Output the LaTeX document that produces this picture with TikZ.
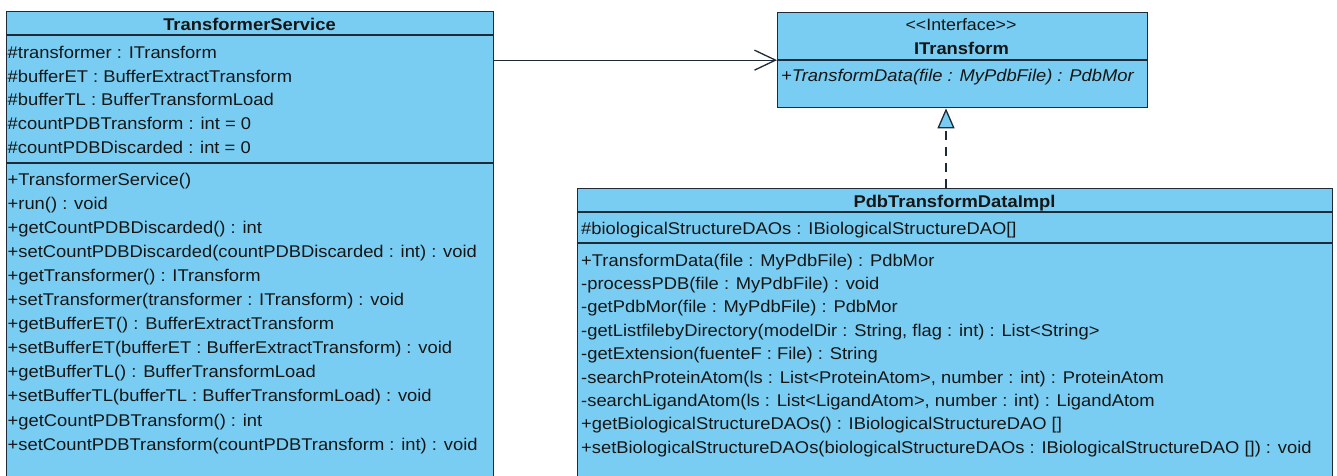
\documentclass[tikz,border=0pt]{standalone}
\usepackage{fontspec}
\setmainfont{Liberation Sans}[FakeStretch=1.08]
\usetikzlibrary{arrows.meta}
\definecolor{umlfill}{HTML}{79CDF2}
\definecolor{umlline}{HTML}{1E2A36}
\definecolor{umltext}{HTML}{161616}
\begin{document}
\begin{tikzpicture}[x=1pt,y=-1pt,
  classbox/.style={draw=umlline, line width=1.3pt, fill=umlfill, anchor=north west, inner sep=0pt},
  sep/.style={draw=umlline, line width=1.3pt},
  member/.style={anchor=base west, inner sep=0pt, text=umltext, font=\fontsize{17}{20}\selectfont},
  title/.style={anchor=base, inner sep=0pt, text=umltext, font=\fontsize{17}{20}\selectfont\bfseries},
  stereo/.style={anchor=base, inner sep=0pt, text=umltext, font=\fontsize{16.5}{20}\selectfont},
  assoc/.style={draw=umlline, line width=1.3pt, -{Straight Barb[length=21pt,width=20pt]}},
  realize/.style={draw=umlline, line width=1.3pt, dash pattern=on 9pt off 7pt,
    -{Triangle[length=20pt,width=17pt,fill=umlfill]}}
]
\useasboundingbox (0,0) rectangle (1337,475);
\clip (0,0) rectangle (1337,475);

% ---- TransformerService ----
\node[classbox, minimum width=487pt, minimum height=480pt] (ts) at (6,11) {};
\draw[sep] ([yshift=-24pt]ts.north west) -- ([yshift=-24pt]ts.north east);
\draw[sep] ([yshift=-152pt]ts.north west) -- ([yshift=-152pt]ts.north east);
\node[title] (tsname) at (249.5,30) {TransformerService};
\node[member] (tsa1) at (7.5,58.3) {\#transformer : ITransform};
\node[member] (tsa2) at (7.5,82) {\#bufferET : BufferExtractTransform};
\node[member] (tsa3) at (7.5,105.7) {\#bufferTL : BufferTransformLoad};
\node[member] (tsa4) at (7.5,129.4) {\#countPDBTransform : int = 0};
\node[member] (tsa5) at (7.5,153) {\#countPDBDiscarded : int = 0};
\node[member] (tsm1) at (7.5,185) {+TransformerService()};
\node[member] (tsm2) at (7.5,209.1) {+run() : void};
\node[member] (tsm3) at (7.5,233.2) {+getCountPDBDiscarded() : int};
\node[member] (tsm4) at (7.5,257.3) {+setCountPDBDiscarded(countPDBDiscarded : int) : void};
\node[member] (tsm5) at (7.5,281.4) {+getTransformer() : ITransform};
\node[member] (tsm6) at (7.5,305.5) {+setTransformer(transformer : ITransform) : void};
\node[member] (tsm7) at (7.5,329.6) {+getBufferET() : BufferExtractTransform};
\node[member] (tsm8) at (7.5,353.7) {+setBufferET(bufferET : BufferExtractTransform) : void};
\node[member] (tsm9) at (7.5,377.8) {+getBufferTL() : BufferTransformLoad};
\node[member] (tsm10) at (7.5,401.9) {+setBufferTL(bufferTL : BufferTransformLoad) : void};
\node[member] (tsm11) at (7.5,426) {+getCountPDBTransform() : int};
\node[member] (tsm12) at (7.5,450.1) {+setCountPDBTransform(countPDBTransform : int) : void};

% ---- ITransform ----
\node[classbox, minimum width=370pt, minimum height=95pt] (itf) at (777,12) {};
\draw[sep] ([yshift=-48pt]itf.north west) -- ([yshift=-48pt]itf.north east);
\node[stereo] (itfst) at (961,30.5) {<\kern0pt<Interface>\kern0pt>};
\node[title] (itfname) at (961.5,54) {ITransform};
\node[member, font=\fontsize{17}{20}\selectfont\itshape] (itfm1) at (781,81.5) {+TransformData(file : MyPdbFile) : PdbMor};

% ---- PdbTransformDataImpl ----
\node[classbox, minimum width=755pt, minimum height=300pt] (impl) at (577,188) {};
\draw[sep] ([yshift=-24pt]impl.north west) -- ([yshift=-24pt]impl.north east);
\draw[sep] ([yshift=-55pt]impl.north west) -- ([yshift=-55pt]impl.north east);
\node[title] (implname) at (954.5,207) {PdbTransformDataImpl};
\node[member] (ima1) at (581,234) {\#biologicalStructureDAOs : IBiologicalStructureDAO[]};
\node[member] (imm1) at (581,266) {+TransformData(file : MyPdbFile) : PdbMor};
\node[member] (imm2) at (581,289.4) {-processPDB(file : MyPdbFile) : void};
\node[member] (imm3) at (581,312.8) {-getPdbMor(file : MyPdbFile) : PdbMor};
\node[member] (imm4) at (581,336.2) {-getListfilebyDirectory(modelDir : String, flag : int) : List<String>};
\node[member] (imm5) at (581,359.6) {-getExtension(fuenteF : File) : String};
\node[member] (imm6) at (581,383) {-searchProteinAtom(ls : List<ProteinAtom>, number : int) : ProteinAtom};
\node[member] (imm7) at (581,406.4) {-searchLigandAtom(ls : List<LigandAtom>, number : int) : LigandAtom};
\node[member] (imm8) at (581,429.8) {+getBiologicalStructureDAOs() : IBiologicalStructureDAO []};
\node[member] (imm9) at (581,453.2) {+setBiologicalStructureDAOs(biologicalStructureDAOs : IBiologicalStructureDAO []) : void};

% ---- relationships ----
\draw[assoc] (ts.east |- itf.west) -- (itf.west);
\coordinate (rx) at (946,0);
\draw[realize] (impl.north -| rx) -- (itf.south -| rx);
\end{tikzpicture}
\end{document}
